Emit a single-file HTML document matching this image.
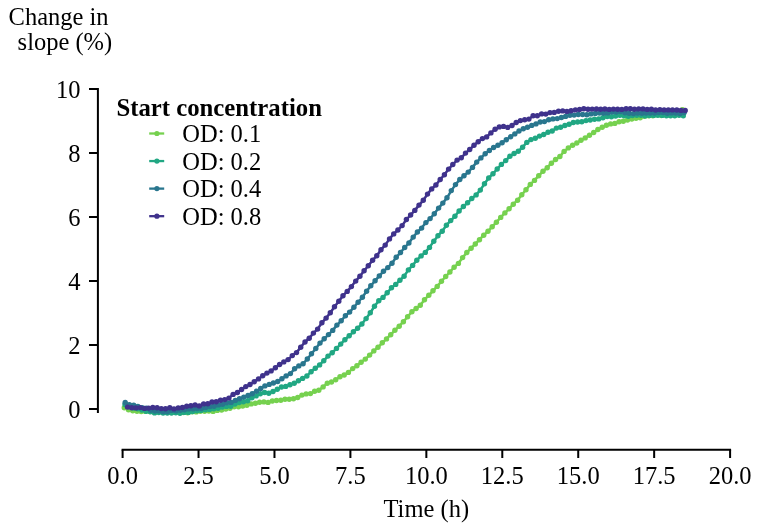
<!DOCTYPE html><html><head><meta charset="utf-8"><style>html,body{margin:0;padding:0;background:#fff;}svg{display:block;will-change:transform;}</style></head><body><svg width="760" height="530" viewBox="0 0 760 530">
<rect width="760" height="530" fill="#fff"/>
<path d="M97.9 88 V413 M121.6 449.75 H731.1" stroke="#000" stroke-width="2" fill="none" stroke-linecap="butt"/>
<path d="M89 409.00 H97.9 M89 345.00 H97.9 M89 281.00 H97.9 M89 217.00 H97.9 M89 153.00 H97.9 M89 89.00 H97.9 M122.60 449.75 V458 M198.54 449.75 V458 M274.48 449.75 V458 M350.41 449.75 V458 M426.35 449.75 V458 M502.29 449.75 V458 M578.23 449.75 V458 M654.16 449.75 V458 M730.10 449.75 V458" stroke="#000" stroke-width="2" fill="none" stroke-linecap="butt"/>
<text x="80.5" y="418.20" text-anchor="end" font-family="Liberation Serif, serif" font-size="24.5" fill="#000">0</text>
<text x="80.5" y="354.20" text-anchor="end" font-family="Liberation Serif, serif" font-size="24.5" fill="#000">2</text>
<text x="80.5" y="290.20" text-anchor="end" font-family="Liberation Serif, serif" font-size="24.5" fill="#000">4</text>
<text x="80.5" y="226.20" text-anchor="end" font-family="Liberation Serif, serif" font-size="24.5" fill="#000">6</text>
<text x="80.5" y="162.20" text-anchor="end" font-family="Liberation Serif, serif" font-size="24.5" fill="#000">8</text>
<text x="80.5" y="98.20" text-anchor="end" font-family="Liberation Serif, serif" font-size="24.5" fill="#000">10</text>
<text x="122.60" y="484" text-anchor="middle" font-family="Liberation Serif, serif" font-size="24.5" fill="#000">0.0</text>
<text x="198.54" y="484" text-anchor="middle" font-family="Liberation Serif, serif" font-size="24.5" fill="#000">2.5</text>
<text x="274.48" y="484" text-anchor="middle" font-family="Liberation Serif, serif" font-size="24.5" fill="#000">5.0</text>
<text x="350.41" y="484" text-anchor="middle" font-family="Liberation Serif, serif" font-size="24.5" fill="#000">7.5</text>
<text x="426.35" y="484" text-anchor="middle" font-family="Liberation Serif, serif" font-size="24.5" fill="#000">10.0</text>
<text x="502.29" y="484" text-anchor="middle" font-family="Liberation Serif, serif" font-size="24.5" fill="#000">12.5</text>
<text x="578.23" y="484" text-anchor="middle" font-family="Liberation Serif, serif" font-size="24.5" fill="#000">15.0</text>
<text x="654.16" y="484" text-anchor="middle" font-family="Liberation Serif, serif" font-size="24.5" fill="#000">17.5</text>
<text x="730.10" y="484" text-anchor="middle" font-family="Liberation Serif, serif" font-size="24.5" fill="#000">20.0</text>
<text x="426.3" y="517" text-anchor="middle" font-family="Liberation Serif, serif" font-size="24.5" fill="#000">Time (h)</text>
<text x="58.6" y="24.6" text-anchor="middle" font-family="Liberation Serif, serif" font-size="24.5" fill="#000">Change in</text>
<text x="64.9" y="50.2" text-anchor="middle" font-family="Liberation Serif, serif" font-size="24.5" fill="#000">slope (%)</text>
<path d="M124.3 407.8 L128.5 409.7 L132.8 410.8 L137.0 411.3 L141.2 411.6 L145.4 411.4 L149.7 411.6 L153.9 411.9 L158.1 411.2 L162.4 411.3 L166.6 411.8 L170.8 412.0 L175.0 412.2 L179.3 412.1 L183.5 412.5 L187.7 412.7 L192.0 411.8 L196.2 411.9 L200.4 411.2 L204.6 411.3 L208.9 411.1 L213.1 411.4 L217.3 410.4 L221.6 410.1 L225.8 409.1 L230.0 408.2 L234.2 406.7 L238.5 406.7 L242.7 406.1 L246.9 405.3 L251.2 403.9 L255.4 403.2 L259.6 402.2 L263.9 401.9 L268.1 402.4 L272.3 401.0 L276.5 400.5 L280.8 400.3 L285.0 399.2 L289.2 399.2 L293.5 398.8 L297.7 397.5 L301.9 395.1 L306.1 393.9 L310.4 393.6 L314.6 391.3 L318.8 390.2 L323.1 386.9 L327.3 383.3 L331.5 382.0 L335.7 379.8 L340.0 376.7 L344.2 375.0 L348.4 372.4 L352.7 368.6 L356.9 365.7 L361.1 362.3 L365.3 359.1 L369.6 355.1 L373.8 350.9 L378.0 347.3 L382.3 342.8 L386.5 338.9 L390.7 334.7 L394.9 330.3 L399.2 326.2 L403.4 321.7 L407.6 316.7 L411.9 311.7 L416.1 308.5 L420.3 305.2 L424.5 299.7 L428.8 295.3 L433.0 290.8 L437.2 286.4 L441.5 281.3 L445.7 276.5 L449.9 272.0 L454.1 267.2 L458.4 263.4 L462.6 257.6 L466.8 252.5 L471.1 248.2 L475.3 244.0 L479.5 239.7 L483.7 235.2 L488.0 231.3 L492.2 226.7 L496.4 222.3 L500.7 217.4 L504.9 212.9 L509.1 208.8 L513.3 204.2 L517.6 200.2 L521.8 194.7 L526.0 189.8 L530.3 184.4 L534.5 180.4 L538.7 175.7 L543.0 171.3 L547.2 167.7 L551.4 163.2 L555.6 159.5 L559.9 156.5 L564.1 151.4 L568.3 147.9 L572.6 145.3 L576.8 143.0 L581.0 140.3 L585.2 137.9 L589.5 135.3 L593.7 132.5 L597.9 129.5 L602.2 127.3 L606.4 125.2 L610.6 123.9 L614.8 123.4 L619.1 121.8 L623.3 121.2 L627.5 120.0 L631.8 119.1 L636.0 118.2 L640.2 117.8 L644.4 116.3 L648.7 115.8 L652.9 115.8 L657.1 114.7 L661.4 115.6 L665.6 114.6 L669.8 115.2 L674.0 114.2 L678.3 113.2 L682.5 109.8" stroke="#76D14F" stroke-width="2.5" fill="none" stroke-linejoin="round"/>
<g fill="#76D14F"><circle cx="124.3" cy="407.8" r="2.7"/><circle cx="128.5" cy="409.7" r="2.7"/><circle cx="132.8" cy="410.8" r="2.7"/><circle cx="137.0" cy="411.3" r="2.7"/><circle cx="141.2" cy="411.6" r="2.7"/><circle cx="145.4" cy="411.4" r="2.7"/><circle cx="149.7" cy="411.6" r="2.7"/><circle cx="153.9" cy="411.9" r="2.7"/><circle cx="158.1" cy="411.2" r="2.7"/><circle cx="162.4" cy="411.3" r="2.7"/><circle cx="166.6" cy="411.8" r="2.7"/><circle cx="170.8" cy="412.0" r="2.7"/><circle cx="175.0" cy="412.2" r="2.7"/><circle cx="179.3" cy="412.1" r="2.7"/><circle cx="183.5" cy="412.5" r="2.7"/><circle cx="187.7" cy="412.7" r="2.7"/><circle cx="192.0" cy="411.8" r="2.7"/><circle cx="196.2" cy="411.9" r="2.7"/><circle cx="200.4" cy="411.2" r="2.7"/><circle cx="204.6" cy="411.3" r="2.7"/><circle cx="208.9" cy="411.1" r="2.7"/><circle cx="213.1" cy="411.4" r="2.7"/><circle cx="217.3" cy="410.4" r="2.7"/><circle cx="221.6" cy="410.1" r="2.7"/><circle cx="225.8" cy="409.1" r="2.7"/><circle cx="230.0" cy="408.2" r="2.7"/><circle cx="234.2" cy="406.7" r="2.7"/><circle cx="238.5" cy="406.7" r="2.7"/><circle cx="242.7" cy="406.1" r="2.7"/><circle cx="246.9" cy="405.3" r="2.7"/><circle cx="251.2" cy="403.9" r="2.7"/><circle cx="255.4" cy="403.2" r="2.7"/><circle cx="259.6" cy="402.2" r="2.7"/><circle cx="263.9" cy="401.9" r="2.7"/><circle cx="268.1" cy="402.4" r="2.7"/><circle cx="272.3" cy="401.0" r="2.7"/><circle cx="276.5" cy="400.5" r="2.7"/><circle cx="280.8" cy="400.3" r="2.7"/><circle cx="285.0" cy="399.2" r="2.7"/><circle cx="289.2" cy="399.2" r="2.7"/><circle cx="293.5" cy="398.8" r="2.7"/><circle cx="297.7" cy="397.5" r="2.7"/><circle cx="301.9" cy="395.1" r="2.7"/><circle cx="306.1" cy="393.9" r="2.7"/><circle cx="310.4" cy="393.6" r="2.7"/><circle cx="314.6" cy="391.3" r="2.7"/><circle cx="318.8" cy="390.2" r="2.7"/><circle cx="323.1" cy="386.9" r="2.7"/><circle cx="327.3" cy="383.3" r="2.7"/><circle cx="331.5" cy="382.0" r="2.7"/><circle cx="335.7" cy="379.8" r="2.7"/><circle cx="340.0" cy="376.7" r="2.7"/><circle cx="344.2" cy="375.0" r="2.7"/><circle cx="348.4" cy="372.4" r="2.7"/><circle cx="352.7" cy="368.6" r="2.7"/><circle cx="356.9" cy="365.7" r="2.7"/><circle cx="361.1" cy="362.3" r="2.7"/><circle cx="365.3" cy="359.1" r="2.7"/><circle cx="369.6" cy="355.1" r="2.7"/><circle cx="373.8" cy="350.9" r="2.7"/><circle cx="378.0" cy="347.3" r="2.7"/><circle cx="382.3" cy="342.8" r="2.7"/><circle cx="386.5" cy="338.9" r="2.7"/><circle cx="390.7" cy="334.7" r="2.7"/><circle cx="394.9" cy="330.3" r="2.7"/><circle cx="399.2" cy="326.2" r="2.7"/><circle cx="403.4" cy="321.7" r="2.7"/><circle cx="407.6" cy="316.7" r="2.7"/><circle cx="411.9" cy="311.7" r="2.7"/><circle cx="416.1" cy="308.5" r="2.7"/><circle cx="420.3" cy="305.2" r="2.7"/><circle cx="424.5" cy="299.7" r="2.7"/><circle cx="428.8" cy="295.3" r="2.7"/><circle cx="433.0" cy="290.8" r="2.7"/><circle cx="437.2" cy="286.4" r="2.7"/><circle cx="441.5" cy="281.3" r="2.7"/><circle cx="445.7" cy="276.5" r="2.7"/><circle cx="449.9" cy="272.0" r="2.7"/><circle cx="454.1" cy="267.2" r="2.7"/><circle cx="458.4" cy="263.4" r="2.7"/><circle cx="462.6" cy="257.6" r="2.7"/><circle cx="466.8" cy="252.5" r="2.7"/><circle cx="471.1" cy="248.2" r="2.7"/><circle cx="475.3" cy="244.0" r="2.7"/><circle cx="479.5" cy="239.7" r="2.7"/><circle cx="483.7" cy="235.2" r="2.7"/><circle cx="488.0" cy="231.3" r="2.7"/><circle cx="492.2" cy="226.7" r="2.7"/><circle cx="496.4" cy="222.3" r="2.7"/><circle cx="500.7" cy="217.4" r="2.7"/><circle cx="504.9" cy="212.9" r="2.7"/><circle cx="509.1" cy="208.8" r="2.7"/><circle cx="513.3" cy="204.2" r="2.7"/><circle cx="517.6" cy="200.2" r="2.7"/><circle cx="521.8" cy="194.7" r="2.7"/><circle cx="526.0" cy="189.8" r="2.7"/><circle cx="530.3" cy="184.4" r="2.7"/><circle cx="534.5" cy="180.4" r="2.7"/><circle cx="538.7" cy="175.7" r="2.7"/><circle cx="543.0" cy="171.3" r="2.7"/><circle cx="547.2" cy="167.7" r="2.7"/><circle cx="551.4" cy="163.2" r="2.7"/><circle cx="555.6" cy="159.5" r="2.7"/><circle cx="559.9" cy="156.5" r="2.7"/><circle cx="564.1" cy="151.4" r="2.7"/><circle cx="568.3" cy="147.9" r="2.7"/><circle cx="572.6" cy="145.3" r="2.7"/><circle cx="576.8" cy="143.0" r="2.7"/><circle cx="581.0" cy="140.3" r="2.7"/><circle cx="585.2" cy="137.9" r="2.7"/><circle cx="589.5" cy="135.3" r="2.7"/><circle cx="593.7" cy="132.5" r="2.7"/><circle cx="597.9" cy="129.5" r="2.7"/><circle cx="602.2" cy="127.3" r="2.7"/><circle cx="606.4" cy="125.2" r="2.7"/><circle cx="610.6" cy="123.9" r="2.7"/><circle cx="614.8" cy="123.4" r="2.7"/><circle cx="619.1" cy="121.8" r="2.7"/><circle cx="623.3" cy="121.2" r="2.7"/><circle cx="627.5" cy="120.0" r="2.7"/><circle cx="631.8" cy="119.1" r="2.7"/><circle cx="636.0" cy="118.2" r="2.7"/><circle cx="640.2" cy="117.8" r="2.7"/><circle cx="644.4" cy="116.3" r="2.7"/><circle cx="648.7" cy="115.8" r="2.7"/><circle cx="652.9" cy="115.8" r="2.7"/><circle cx="657.1" cy="114.7" r="2.7"/><circle cx="661.4" cy="115.6" r="2.7"/><circle cx="665.6" cy="114.6" r="2.7"/><circle cx="669.8" cy="115.2" r="2.7"/><circle cx="674.0" cy="114.2" r="2.7"/><circle cx="678.3" cy="113.2" r="2.7"/><circle cx="682.5" cy="109.8" r="2.7"/></g>
<path d="M125.0 404.5 L129.2 406.7 L133.5 408.0 L137.7 408.8 L141.9 410.0 L146.1 411.3 L150.4 411.8 L154.6 412.9 L158.8 412.6 L163.1 413.1 L167.3 413.0 L171.5 413.1 L175.8 412.7 L180.0 413.3 L184.2 412.4 L188.4 412.4 L192.7 411.5 L196.9 410.8 L201.1 410.4 L205.4 409.7 L209.6 409.4 L213.8 408.7 L218.1 408.2 L222.3 407.1 L226.5 406.4 L230.7 406.2 L235.0 404.1 L239.2 402.6 L243.4 401.8 L247.7 400.7 L251.9 397.8 L256.1 395.9 L260.3 393.7 L264.6 392.5 L268.8 393.2 L273.0 391.5 L277.3 389.3 L281.5 387.0 L285.7 386.4 L290.0 384.8 L294.2 383.2 L298.4 380.8 L302.6 378.4 L306.9 376.0 L311.1 371.7 L315.3 368.3 L319.6 364.9 L323.8 360.7 L328.0 356.1 L332.2 352.8 L336.5 348.4 L340.7 344.1 L344.9 339.7 L349.2 335.8 L353.4 331.8 L357.6 328.2 L361.9 324.0 L366.1 318.6 L370.3 312.8 L374.5 306.3 L378.8 300.7 L383.0 297.4 L387.2 292.8 L391.5 287.8 L395.7 284.4 L399.9 280.3 L404.1 276.2 L408.4 269.9 L412.6 265.4 L416.8 260.2 L421.1 255.9 L425.3 252.4 L429.5 247.4 L433.8 241.3 L438.0 235.7 L442.2 231.2 L446.4 225.2 L450.7 220.6 L454.9 216.3 L459.1 211.0 L463.4 206.5 L467.6 202.8 L471.8 198.5 L476.1 194.9 L480.3 190.1 L484.5 183.8 L488.7 178.0 L493.0 173.7 L497.2 169.0 L501.4 164.4 L505.7 160.6 L509.9 156.2 L514.1 153.5 L518.3 151.2 L522.6 147.3 L526.8 142.4 L531.0 139.6 L535.3 138.2 L539.5 136.1 L543.7 134.5 L548.0 132.3 L552.2 131.0 L556.4 128.1 L560.6 127.2 L564.9 125.5 L569.1 124.2 L573.3 122.5 L577.6 122.0 L581.8 121.8 L586.0 120.6 L590.2 120.0 L594.5 119.3 L598.7 118.9 L602.9 117.8 L607.2 116.6 L611.4 116.8 L615.6 116.0 L619.9 115.2 L624.1 115.8 L628.3 116.2 L632.5 115.6 L636.8 115.2 L641.0 115.3 L645.2 115.9 L649.5 115.5 L653.7 115.4 L657.9 115.3 L662.2 115.4 L666.4 115.8 L670.6 115.8 L674.8 115.8 L679.1 115.3 L683.3 115.8" stroke="#21A783" stroke-width="2.5" fill="none" stroke-linejoin="round"/>
<g fill="#21A783"><circle cx="125.0" cy="404.5" r="2.7"/><circle cx="129.2" cy="406.7" r="2.7"/><circle cx="133.5" cy="408.0" r="2.7"/><circle cx="137.7" cy="408.8" r="2.7"/><circle cx="141.9" cy="410.0" r="2.7"/><circle cx="146.1" cy="411.3" r="2.7"/><circle cx="150.4" cy="411.8" r="2.7"/><circle cx="154.6" cy="412.9" r="2.7"/><circle cx="158.8" cy="412.6" r="2.7"/><circle cx="163.1" cy="413.1" r="2.7"/><circle cx="167.3" cy="413.0" r="2.7"/><circle cx="171.5" cy="413.1" r="2.7"/><circle cx="175.8" cy="412.7" r="2.7"/><circle cx="180.0" cy="413.3" r="2.7"/><circle cx="184.2" cy="412.4" r="2.7"/><circle cx="188.4" cy="412.4" r="2.7"/><circle cx="192.7" cy="411.5" r="2.7"/><circle cx="196.9" cy="410.8" r="2.7"/><circle cx="201.1" cy="410.4" r="2.7"/><circle cx="205.4" cy="409.7" r="2.7"/><circle cx="209.6" cy="409.4" r="2.7"/><circle cx="213.8" cy="408.7" r="2.7"/><circle cx="218.1" cy="408.2" r="2.7"/><circle cx="222.3" cy="407.1" r="2.7"/><circle cx="226.5" cy="406.4" r="2.7"/><circle cx="230.7" cy="406.2" r="2.7"/><circle cx="235.0" cy="404.1" r="2.7"/><circle cx="239.2" cy="402.6" r="2.7"/><circle cx="243.4" cy="401.8" r="2.7"/><circle cx="247.7" cy="400.7" r="2.7"/><circle cx="251.9" cy="397.8" r="2.7"/><circle cx="256.1" cy="395.9" r="2.7"/><circle cx="260.3" cy="393.7" r="2.7"/><circle cx="264.6" cy="392.5" r="2.7"/><circle cx="268.8" cy="393.2" r="2.7"/><circle cx="273.0" cy="391.5" r="2.7"/><circle cx="277.3" cy="389.3" r="2.7"/><circle cx="281.5" cy="387.0" r="2.7"/><circle cx="285.7" cy="386.4" r="2.7"/><circle cx="290.0" cy="384.8" r="2.7"/><circle cx="294.2" cy="383.2" r="2.7"/><circle cx="298.4" cy="380.8" r="2.7"/><circle cx="302.6" cy="378.4" r="2.7"/><circle cx="306.9" cy="376.0" r="2.7"/><circle cx="311.1" cy="371.7" r="2.7"/><circle cx="315.3" cy="368.3" r="2.7"/><circle cx="319.6" cy="364.9" r="2.7"/><circle cx="323.8" cy="360.7" r="2.7"/><circle cx="328.0" cy="356.1" r="2.7"/><circle cx="332.2" cy="352.8" r="2.7"/><circle cx="336.5" cy="348.4" r="2.7"/><circle cx="340.7" cy="344.1" r="2.7"/><circle cx="344.9" cy="339.7" r="2.7"/><circle cx="349.2" cy="335.8" r="2.7"/><circle cx="353.4" cy="331.8" r="2.7"/><circle cx="357.6" cy="328.2" r="2.7"/><circle cx="361.9" cy="324.0" r="2.7"/><circle cx="366.1" cy="318.6" r="2.7"/><circle cx="370.3" cy="312.8" r="2.7"/><circle cx="374.5" cy="306.3" r="2.7"/><circle cx="378.8" cy="300.7" r="2.7"/><circle cx="383.0" cy="297.4" r="2.7"/><circle cx="387.2" cy="292.8" r="2.7"/><circle cx="391.5" cy="287.8" r="2.7"/><circle cx="395.7" cy="284.4" r="2.7"/><circle cx="399.9" cy="280.3" r="2.7"/><circle cx="404.1" cy="276.2" r="2.7"/><circle cx="408.4" cy="269.9" r="2.7"/><circle cx="412.6" cy="265.4" r="2.7"/><circle cx="416.8" cy="260.2" r="2.7"/><circle cx="421.1" cy="255.9" r="2.7"/><circle cx="425.3" cy="252.4" r="2.7"/><circle cx="429.5" cy="247.4" r="2.7"/><circle cx="433.8" cy="241.3" r="2.7"/><circle cx="438.0" cy="235.7" r="2.7"/><circle cx="442.2" cy="231.2" r="2.7"/><circle cx="446.4" cy="225.2" r="2.7"/><circle cx="450.7" cy="220.6" r="2.7"/><circle cx="454.9" cy="216.3" r="2.7"/><circle cx="459.1" cy="211.0" r="2.7"/><circle cx="463.4" cy="206.5" r="2.7"/><circle cx="467.6" cy="202.8" r="2.7"/><circle cx="471.8" cy="198.5" r="2.7"/><circle cx="476.1" cy="194.9" r="2.7"/><circle cx="480.3" cy="190.1" r="2.7"/><circle cx="484.5" cy="183.8" r="2.7"/><circle cx="488.7" cy="178.0" r="2.7"/><circle cx="493.0" cy="173.7" r="2.7"/><circle cx="497.2" cy="169.0" r="2.7"/><circle cx="501.4" cy="164.4" r="2.7"/><circle cx="505.7" cy="160.6" r="2.7"/><circle cx="509.9" cy="156.2" r="2.7"/><circle cx="514.1" cy="153.5" r="2.7"/><circle cx="518.3" cy="151.2" r="2.7"/><circle cx="522.6" cy="147.3" r="2.7"/><circle cx="526.8" cy="142.4" r="2.7"/><circle cx="531.0" cy="139.6" r="2.7"/><circle cx="535.3" cy="138.2" r="2.7"/><circle cx="539.5" cy="136.1" r="2.7"/><circle cx="543.7" cy="134.5" r="2.7"/><circle cx="548.0" cy="132.3" r="2.7"/><circle cx="552.2" cy="131.0" r="2.7"/><circle cx="556.4" cy="128.1" r="2.7"/><circle cx="560.6" cy="127.2" r="2.7"/><circle cx="564.9" cy="125.5" r="2.7"/><circle cx="569.1" cy="124.2" r="2.7"/><circle cx="573.3" cy="122.5" r="2.7"/><circle cx="577.6" cy="122.0" r="2.7"/><circle cx="581.8" cy="121.8" r="2.7"/><circle cx="586.0" cy="120.6" r="2.7"/><circle cx="590.2" cy="120.0" r="2.7"/><circle cx="594.5" cy="119.3" r="2.7"/><circle cx="598.7" cy="118.9" r="2.7"/><circle cx="602.9" cy="117.8" r="2.7"/><circle cx="607.2" cy="116.6" r="2.7"/><circle cx="611.4" cy="116.8" r="2.7"/><circle cx="615.6" cy="116.0" r="2.7"/><circle cx="619.9" cy="115.2" r="2.7"/><circle cx="624.1" cy="115.8" r="2.7"/><circle cx="628.3" cy="116.2" r="2.7"/><circle cx="632.5" cy="115.6" r="2.7"/><circle cx="636.8" cy="115.2" r="2.7"/><circle cx="641.0" cy="115.3" r="2.7"/><circle cx="645.2" cy="115.9" r="2.7"/><circle cx="649.5" cy="115.5" r="2.7"/><circle cx="653.7" cy="115.4" r="2.7"/><circle cx="657.9" cy="115.3" r="2.7"/><circle cx="662.2" cy="115.4" r="2.7"/><circle cx="666.4" cy="115.8" r="2.7"/><circle cx="670.6" cy="115.8" r="2.7"/><circle cx="674.8" cy="115.8" r="2.7"/><circle cx="679.1" cy="115.3" r="2.7"/><circle cx="683.3" cy="115.8" r="2.7"/></g>
<path d="M125.2 402.5 L129.4 404.6 L133.7 405.1 L137.9 406.5 L142.1 407.6 L146.4 408.2 L150.6 410.2 L154.8 411.0 L159.1 410.9 L163.3 411.7 L167.5 411.7 L171.8 410.4 L176.0 410.9 L180.3 410.2 L184.5 409.7 L188.7 408.9 L193.0 408.9 L197.2 408.5 L201.4 408.5 L205.7 407.4 L209.9 406.5 L214.1 406.2 L218.4 404.9 L222.6 404.3 L226.8 402.8 L231.1 402.4 L235.3 400.4 L239.5 398.7 L243.8 397.1 L248.0 395.5 L252.2 393.7 L256.5 391.2 L260.7 388.5 L264.9 385.9 L269.2 384.4 L273.4 383.0 L277.7 381.5 L281.9 378.7 L286.1 375.9 L290.4 373.6 L294.6 368.7 L298.8 365.9 L303.1 363.8 L307.3 359.0 L311.5 353.7 L315.8 348.5 L320.0 343.1 L324.2 338.8 L328.5 334.6 L332.7 330.4 L336.9 325.1 L341.2 320.8 L345.4 315.8 L349.6 312.1 L353.9 307.2 L358.1 302.3 L362.4 297.2 L366.6 291.2 L370.8 285.8 L375.1 280.7 L379.3 275.9 L383.5 271.3 L387.8 267.6 L392.0 263.2 L396.2 257.3 L400.5 252.5 L404.7 247.5 L408.9 243.0 L413.2 237.1 L417.4 232.0 L421.6 228.1 L425.9 222.6 L430.1 218.6 L434.3 213.8 L438.6 208.1 L442.8 203.1 L447.0 197.8 L451.3 190.6 L455.5 184.6 L459.8 179.5 L464.0 175.8 L468.2 172.1 L472.5 167.4 L476.7 162.1 L480.9 157.9 L485.2 153.8 L489.4 150.5 L493.6 147.5 L497.9 145.2 L502.1 142.8 L506.3 139.8 L510.6 136.8 L514.8 133.9 L519.0 131.0 L523.3 128.8 L527.5 127.3 L531.7 125.4 L536.0 123.9 L540.2 122.0 L544.4 121.6 L548.7 119.7 L552.9 118.9 L557.2 118.6 L561.4 117.5 L565.6 116.4 L569.9 115.2 L574.1 115.1 L578.3 114.5 L582.6 114.5 L586.8 114.8 L591.0 113.9 L595.3 113.4 L599.5 113.1 L603.7 113.3 L608.0 112.9 L612.2 112.0 L616.4 112.1 L620.7 111.6 L624.9 112.8 L629.1 113.3 L633.4 113.6 L637.6 113.1 L641.9 113.3 L646.1 113.0 L650.3 113.0 L654.6 113.0 L658.8 112.6 L663.0 112.5 L667.3 113.3 L671.5 112.9 L675.7 113.1 L680.0 113.5 L684.2 112.6" stroke="#29768E" stroke-width="2.5" fill="none" stroke-linejoin="round"/>
<g fill="#29768E"><circle cx="125.2" cy="402.5" r="2.7"/><circle cx="129.4" cy="404.6" r="2.7"/><circle cx="133.7" cy="405.1" r="2.7"/><circle cx="137.9" cy="406.5" r="2.7"/><circle cx="142.1" cy="407.6" r="2.7"/><circle cx="146.4" cy="408.2" r="2.7"/><circle cx="150.6" cy="410.2" r="2.7"/><circle cx="154.8" cy="411.0" r="2.7"/><circle cx="159.1" cy="410.9" r="2.7"/><circle cx="163.3" cy="411.7" r="2.7"/><circle cx="167.5" cy="411.7" r="2.7"/><circle cx="171.8" cy="410.4" r="2.7"/><circle cx="176.0" cy="410.9" r="2.7"/><circle cx="180.3" cy="410.2" r="2.7"/><circle cx="184.5" cy="409.7" r="2.7"/><circle cx="188.7" cy="408.9" r="2.7"/><circle cx="193.0" cy="408.9" r="2.7"/><circle cx="197.2" cy="408.5" r="2.7"/><circle cx="201.4" cy="408.5" r="2.7"/><circle cx="205.7" cy="407.4" r="2.7"/><circle cx="209.9" cy="406.5" r="2.7"/><circle cx="214.1" cy="406.2" r="2.7"/><circle cx="218.4" cy="404.9" r="2.7"/><circle cx="222.6" cy="404.3" r="2.7"/><circle cx="226.8" cy="402.8" r="2.7"/><circle cx="231.1" cy="402.4" r="2.7"/><circle cx="235.3" cy="400.4" r="2.7"/><circle cx="239.5" cy="398.7" r="2.7"/><circle cx="243.8" cy="397.1" r="2.7"/><circle cx="248.0" cy="395.5" r="2.7"/><circle cx="252.2" cy="393.7" r="2.7"/><circle cx="256.5" cy="391.2" r="2.7"/><circle cx="260.7" cy="388.5" r="2.7"/><circle cx="264.9" cy="385.9" r="2.7"/><circle cx="269.2" cy="384.4" r="2.7"/><circle cx="273.4" cy="383.0" r="2.7"/><circle cx="277.7" cy="381.5" r="2.7"/><circle cx="281.9" cy="378.7" r="2.7"/><circle cx="286.1" cy="375.9" r="2.7"/><circle cx="290.4" cy="373.6" r="2.7"/><circle cx="294.6" cy="368.7" r="2.7"/><circle cx="298.8" cy="365.9" r="2.7"/><circle cx="303.1" cy="363.8" r="2.7"/><circle cx="307.3" cy="359.0" r="2.7"/><circle cx="311.5" cy="353.7" r="2.7"/><circle cx="315.8" cy="348.5" r="2.7"/><circle cx="320.0" cy="343.1" r="2.7"/><circle cx="324.2" cy="338.8" r="2.7"/><circle cx="328.5" cy="334.6" r="2.7"/><circle cx="332.7" cy="330.4" r="2.7"/><circle cx="336.9" cy="325.1" r="2.7"/><circle cx="341.2" cy="320.8" r="2.7"/><circle cx="345.4" cy="315.8" r="2.7"/><circle cx="349.6" cy="312.1" r="2.7"/><circle cx="353.9" cy="307.2" r="2.7"/><circle cx="358.1" cy="302.3" r="2.7"/><circle cx="362.4" cy="297.2" r="2.7"/><circle cx="366.6" cy="291.2" r="2.7"/><circle cx="370.8" cy="285.8" r="2.7"/><circle cx="375.1" cy="280.7" r="2.7"/><circle cx="379.3" cy="275.9" r="2.7"/><circle cx="383.5" cy="271.3" r="2.7"/><circle cx="387.8" cy="267.6" r="2.7"/><circle cx="392.0" cy="263.2" r="2.7"/><circle cx="396.2" cy="257.3" r="2.7"/><circle cx="400.5" cy="252.5" r="2.7"/><circle cx="404.7" cy="247.5" r="2.7"/><circle cx="408.9" cy="243.0" r="2.7"/><circle cx="413.2" cy="237.1" r="2.7"/><circle cx="417.4" cy="232.0" r="2.7"/><circle cx="421.6" cy="228.1" r="2.7"/><circle cx="425.9" cy="222.6" r="2.7"/><circle cx="430.1" cy="218.6" r="2.7"/><circle cx="434.3" cy="213.8" r="2.7"/><circle cx="438.6" cy="208.1" r="2.7"/><circle cx="442.8" cy="203.1" r="2.7"/><circle cx="447.0" cy="197.8" r="2.7"/><circle cx="451.3" cy="190.6" r="2.7"/><circle cx="455.5" cy="184.6" r="2.7"/><circle cx="459.8" cy="179.5" r="2.7"/><circle cx="464.0" cy="175.8" r="2.7"/><circle cx="468.2" cy="172.1" r="2.7"/><circle cx="472.5" cy="167.4" r="2.7"/><circle cx="476.7" cy="162.1" r="2.7"/><circle cx="480.9" cy="157.9" r="2.7"/><circle cx="485.2" cy="153.8" r="2.7"/><circle cx="489.4" cy="150.5" r="2.7"/><circle cx="493.6" cy="147.5" r="2.7"/><circle cx="497.9" cy="145.2" r="2.7"/><circle cx="502.1" cy="142.8" r="2.7"/><circle cx="506.3" cy="139.8" r="2.7"/><circle cx="510.6" cy="136.8" r="2.7"/><circle cx="514.8" cy="133.9" r="2.7"/><circle cx="519.0" cy="131.0" r="2.7"/><circle cx="523.3" cy="128.8" r="2.7"/><circle cx="527.5" cy="127.3" r="2.7"/><circle cx="531.7" cy="125.4" r="2.7"/><circle cx="536.0" cy="123.9" r="2.7"/><circle cx="540.2" cy="122.0" r="2.7"/><circle cx="544.4" cy="121.6" r="2.7"/><circle cx="548.7" cy="119.7" r="2.7"/><circle cx="552.9" cy="118.9" r="2.7"/><circle cx="557.2" cy="118.6" r="2.7"/><circle cx="561.4" cy="117.5" r="2.7"/><circle cx="565.6" cy="116.4" r="2.7"/><circle cx="569.9" cy="115.2" r="2.7"/><circle cx="574.1" cy="115.1" r="2.7"/><circle cx="578.3" cy="114.5" r="2.7"/><circle cx="582.6" cy="114.5" r="2.7"/><circle cx="586.8" cy="114.8" r="2.7"/><circle cx="591.0" cy="113.9" r="2.7"/><circle cx="595.3" cy="113.4" r="2.7"/><circle cx="599.5" cy="113.1" r="2.7"/><circle cx="603.7" cy="113.3" r="2.7"/><circle cx="608.0" cy="112.9" r="2.7"/><circle cx="612.2" cy="112.0" r="2.7"/><circle cx="616.4" cy="112.1" r="2.7"/><circle cx="620.7" cy="111.6" r="2.7"/><circle cx="624.9" cy="112.8" r="2.7"/><circle cx="629.1" cy="113.3" r="2.7"/><circle cx="633.4" cy="113.6" r="2.7"/><circle cx="637.6" cy="113.1" r="2.7"/><circle cx="641.9" cy="113.3" r="2.7"/><circle cx="646.1" cy="113.0" r="2.7"/><circle cx="650.3" cy="113.0" r="2.7"/><circle cx="654.6" cy="113.0" r="2.7"/><circle cx="658.8" cy="112.6" r="2.7"/><circle cx="663.0" cy="112.5" r="2.7"/><circle cx="667.3" cy="113.3" r="2.7"/><circle cx="671.5" cy="112.9" r="2.7"/><circle cx="675.7" cy="113.1" r="2.7"/><circle cx="680.0" cy="113.5" r="2.7"/><circle cx="684.2" cy="112.6" r="2.7"/></g>
<path d="M127.5 407.1 L131.7 407.7 L135.9 407.9 L140.2 407.6 L144.4 408.4 L148.6 408.1 L152.8 407.5 L157.1 407.7 L161.3 408.6 L165.5 408.7 L169.8 407.7 L174.0 408.9 L178.2 407.9 L182.4 407.5 L186.7 406.2 L190.9 405.8 L195.1 404.9 L199.3 405.9 L203.6 403.9 L207.8 403.8 L212.0 402.0 L216.2 401.7 L220.5 400.2 L224.7 399.6 L228.9 398.1 L233.1 394.4 L237.4 392.5 L241.6 389.5 L245.8 386.6 L250.0 384.5 L254.2 381.7 L258.5 378.9 L262.7 375.8 L266.9 373.1 L271.1 370.9 L275.4 367.8 L279.6 364.5 L283.8 361.9 L288.1 359.6 L292.3 355.6 L296.5 352.6 L300.7 347.3 L305.0 342.0 L309.2 338.3 L313.4 333.1 L317.6 329.1 L321.9 322.7 L326.1 318.1 L330.3 312.7 L334.5 306.8 L338.8 301.3 L343.0 295.7 L347.2 291.4 L351.4 286.6 L355.7 281.1 L359.9 276.2 L364.1 270.7 L368.3 265.8 L372.6 260.2 L376.8 255.8 L381.0 249.7 L385.2 245.1 L389.5 238.9 L393.7 233.9 L397.9 230.0 L402.1 225.6 L406.4 219.5 L410.6 215.0 L414.8 210.4 L419.0 205.1 L423.3 200.3 L427.5 194.1 L431.7 188.9 L435.9 185.0 L440.2 179.5 L444.4 174.7 L448.6 169.1 L452.8 164.5 L457.1 160.1 L461.3 157.8 L465.5 153.1 L469.7 149.5 L474.0 145.3 L478.2 141.7 L482.4 138.6 L486.6 136.9 L490.9 132.9 L495.1 129.3 L499.3 126.9 L503.5 126.4 L507.8 127.4 L512.0 125.5 L516.2 122.5 L520.4 120.6 L524.7 119.7 L528.9 119.1 L533.1 115.7 L537.3 115.8 L541.6 113.9 L545.8 114.1 L550.0 112.6 L554.2 112.4 L558.5 111.2 L562.7 110.9 L566.9 111.4 L571.1 110.8 L575.4 109.9 L579.6 109.5 L583.8 108.8 L588.0 109.2 L592.2 109.1 L596.5 109.0 L600.7 109.2 L604.9 109.0 L609.2 109.4 L613.4 109.1 L617.6 109.2 L621.8 109.4 L626.1 108.8 L630.3 108.8 L634.5 109.2 L638.7 108.9 L643.0 108.9 L647.2 109.4 L651.4 109.2 L655.6 110.0 L659.9 109.6 L664.1 109.9 L668.3 109.9 L672.5 109.9 L676.8 110.0 L681.0 110.4 L685.2 110.4" stroke="#3F328C" stroke-width="2.5" fill="none" stroke-linejoin="round"/>
<g fill="#3F328C"><circle cx="127.5" cy="407.1" r="2.7"/><circle cx="131.7" cy="407.7" r="2.7"/><circle cx="135.9" cy="407.9" r="2.7"/><circle cx="140.2" cy="407.6" r="2.7"/><circle cx="144.4" cy="408.4" r="2.7"/><circle cx="148.6" cy="408.1" r="2.7"/><circle cx="152.8" cy="407.5" r="2.7"/><circle cx="157.1" cy="407.7" r="2.7"/><circle cx="161.3" cy="408.6" r="2.7"/><circle cx="165.5" cy="408.7" r="2.7"/><circle cx="169.8" cy="407.7" r="2.7"/><circle cx="174.0" cy="408.9" r="2.7"/><circle cx="178.2" cy="407.9" r="2.7"/><circle cx="182.4" cy="407.5" r="2.7"/><circle cx="186.7" cy="406.2" r="2.7"/><circle cx="190.9" cy="405.8" r="2.7"/><circle cx="195.1" cy="404.9" r="2.7"/><circle cx="199.3" cy="405.9" r="2.7"/><circle cx="203.6" cy="403.9" r="2.7"/><circle cx="207.8" cy="403.8" r="2.7"/><circle cx="212.0" cy="402.0" r="2.7"/><circle cx="216.2" cy="401.7" r="2.7"/><circle cx="220.5" cy="400.2" r="2.7"/><circle cx="224.7" cy="399.6" r="2.7"/><circle cx="228.9" cy="398.1" r="2.7"/><circle cx="233.1" cy="394.4" r="2.7"/><circle cx="237.4" cy="392.5" r="2.7"/><circle cx="241.6" cy="389.5" r="2.7"/><circle cx="245.8" cy="386.6" r="2.7"/><circle cx="250.0" cy="384.5" r="2.7"/><circle cx="254.2" cy="381.7" r="2.7"/><circle cx="258.5" cy="378.9" r="2.7"/><circle cx="262.7" cy="375.8" r="2.7"/><circle cx="266.9" cy="373.1" r="2.7"/><circle cx="271.1" cy="370.9" r="2.7"/><circle cx="275.4" cy="367.8" r="2.7"/><circle cx="279.6" cy="364.5" r="2.7"/><circle cx="283.8" cy="361.9" r="2.7"/><circle cx="288.1" cy="359.6" r="2.7"/><circle cx="292.3" cy="355.6" r="2.7"/><circle cx="296.5" cy="352.6" r="2.7"/><circle cx="300.7" cy="347.3" r="2.7"/><circle cx="305.0" cy="342.0" r="2.7"/><circle cx="309.2" cy="338.3" r="2.7"/><circle cx="313.4" cy="333.1" r="2.7"/><circle cx="317.6" cy="329.1" r="2.7"/><circle cx="321.9" cy="322.7" r="2.7"/><circle cx="326.1" cy="318.1" r="2.7"/><circle cx="330.3" cy="312.7" r="2.7"/><circle cx="334.5" cy="306.8" r="2.7"/><circle cx="338.8" cy="301.3" r="2.7"/><circle cx="343.0" cy="295.7" r="2.7"/><circle cx="347.2" cy="291.4" r="2.7"/><circle cx="351.4" cy="286.6" r="2.7"/><circle cx="355.7" cy="281.1" r="2.7"/><circle cx="359.9" cy="276.2" r="2.7"/><circle cx="364.1" cy="270.7" r="2.7"/><circle cx="368.3" cy="265.8" r="2.7"/><circle cx="372.6" cy="260.2" r="2.7"/><circle cx="376.8" cy="255.8" r="2.7"/><circle cx="381.0" cy="249.7" r="2.7"/><circle cx="385.2" cy="245.1" r="2.7"/><circle cx="389.5" cy="238.9" r="2.7"/><circle cx="393.7" cy="233.9" r="2.7"/><circle cx="397.9" cy="230.0" r="2.7"/><circle cx="402.1" cy="225.6" r="2.7"/><circle cx="406.4" cy="219.5" r="2.7"/><circle cx="410.6" cy="215.0" r="2.7"/><circle cx="414.8" cy="210.4" r="2.7"/><circle cx="419.0" cy="205.1" r="2.7"/><circle cx="423.3" cy="200.3" r="2.7"/><circle cx="427.5" cy="194.1" r="2.7"/><circle cx="431.7" cy="188.9" r="2.7"/><circle cx="435.9" cy="185.0" r="2.7"/><circle cx="440.2" cy="179.5" r="2.7"/><circle cx="444.4" cy="174.7" r="2.7"/><circle cx="448.6" cy="169.1" r="2.7"/><circle cx="452.8" cy="164.5" r="2.7"/><circle cx="457.1" cy="160.1" r="2.7"/><circle cx="461.3" cy="157.8" r="2.7"/><circle cx="465.5" cy="153.1" r="2.7"/><circle cx="469.7" cy="149.5" r="2.7"/><circle cx="474.0" cy="145.3" r="2.7"/><circle cx="478.2" cy="141.7" r="2.7"/><circle cx="482.4" cy="138.6" r="2.7"/><circle cx="486.6" cy="136.9" r="2.7"/><circle cx="490.9" cy="132.9" r="2.7"/><circle cx="495.1" cy="129.3" r="2.7"/><circle cx="499.3" cy="126.9" r="2.7"/><circle cx="503.5" cy="126.4" r="2.7"/><circle cx="507.8" cy="127.4" r="2.7"/><circle cx="512.0" cy="125.5" r="2.7"/><circle cx="516.2" cy="122.5" r="2.7"/><circle cx="520.4" cy="120.6" r="2.7"/><circle cx="524.7" cy="119.7" r="2.7"/><circle cx="528.9" cy="119.1" r="2.7"/><circle cx="533.1" cy="115.7" r="2.7"/><circle cx="537.3" cy="115.8" r="2.7"/><circle cx="541.6" cy="113.9" r="2.7"/><circle cx="545.8" cy="114.1" r="2.7"/><circle cx="550.0" cy="112.6" r="2.7"/><circle cx="554.2" cy="112.4" r="2.7"/><circle cx="558.5" cy="111.2" r="2.7"/><circle cx="562.7" cy="110.9" r="2.7"/><circle cx="566.9" cy="111.4" r="2.7"/><circle cx="571.1" cy="110.8" r="2.7"/><circle cx="575.4" cy="109.9" r="2.7"/><circle cx="579.6" cy="109.5" r="2.7"/><circle cx="583.8" cy="108.8" r="2.7"/><circle cx="588.0" cy="109.2" r="2.7"/><circle cx="592.2" cy="109.1" r="2.7"/><circle cx="596.5" cy="109.0" r="2.7"/><circle cx="600.7" cy="109.2" r="2.7"/><circle cx="604.9" cy="109.0" r="2.7"/><circle cx="609.2" cy="109.4" r="2.7"/><circle cx="613.4" cy="109.1" r="2.7"/><circle cx="617.6" cy="109.2" r="2.7"/><circle cx="621.8" cy="109.4" r="2.7"/><circle cx="626.1" cy="108.8" r="2.7"/><circle cx="630.3" cy="108.8" r="2.7"/><circle cx="634.5" cy="109.2" r="2.7"/><circle cx="638.7" cy="108.9" r="2.7"/><circle cx="643.0" cy="108.9" r="2.7"/><circle cx="647.2" cy="109.4" r="2.7"/><circle cx="651.4" cy="109.2" r="2.7"/><circle cx="655.6" cy="110.0" r="2.7"/><circle cx="659.9" cy="109.6" r="2.7"/><circle cx="664.1" cy="109.9" r="2.7"/><circle cx="668.3" cy="109.9" r="2.7"/><circle cx="672.5" cy="109.9" r="2.7"/><circle cx="676.8" cy="110.0" r="2.7"/><circle cx="681.0" cy="110.4" r="2.7"/><circle cx="685.2" cy="110.4" r="2.7"/></g>
<text x="116.4" y="115.7" font-family="Liberation Serif, serif" font-weight="bold" font-size="24.75" fill="#000">Start concentration</text>
<path d="M149.2 133.50 H164.2" stroke="#76D14F" stroke-width="2.3"/>
<circle cx="156.9" cy="133.50" r="2.6" fill="#76D14F"/>
<text x="182.3" y="142.30" font-family="Liberation Serif, serif" font-size="24.5" fill="#000">OD: 0.1</text>
<path d="M149.2 161.06 H164.2" stroke="#21A783" stroke-width="2.3"/>
<circle cx="156.9" cy="161.06" r="2.6" fill="#21A783"/>
<text x="182.3" y="169.86" font-family="Liberation Serif, serif" font-size="24.5" fill="#000">OD: 0.2</text>
<path d="M149.2 188.62 H164.2" stroke="#29768E" stroke-width="2.3"/>
<circle cx="156.9" cy="188.62" r="2.6" fill="#29768E"/>
<text x="182.3" y="197.42" font-family="Liberation Serif, serif" font-size="24.5" fill="#000">OD: 0.4</text>
<path d="M149.2 216.18 H164.2" stroke="#3F328C" stroke-width="2.3"/>
<circle cx="156.9" cy="216.18" r="2.6" fill="#3F328C"/>
<text x="182.3" y="224.98" font-family="Liberation Serif, serif" font-size="24.5" fill="#000">OD: 0.8</text>
</svg></body></html>
